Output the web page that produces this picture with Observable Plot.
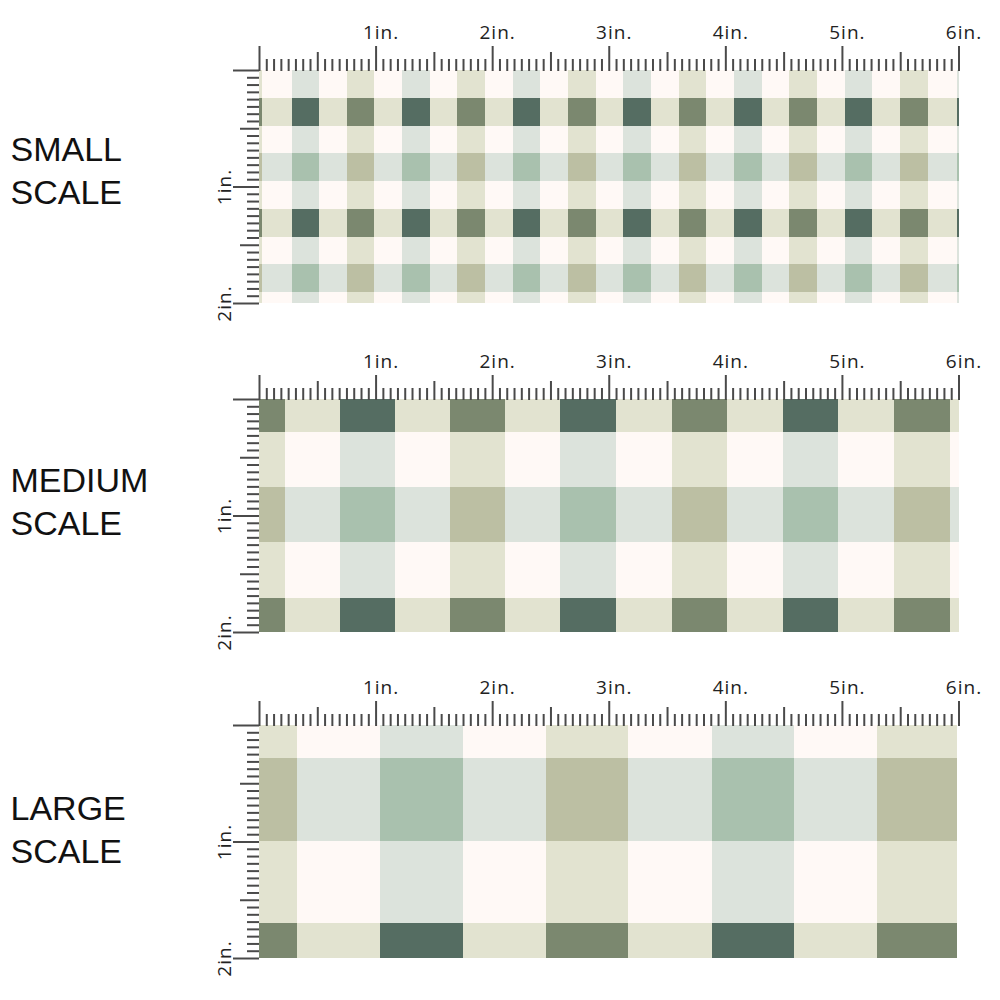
<!DOCTYPE html>
<html>
<head>
<meta charset="utf-8">
<script src="https://cdn.jsdelivr.net/npm/d3@7"></script>
<script src="https://cdn.jsdelivr.net/npm/@observablehq/plot@0.6"></script>
<style>
html, body { margin: 0; padding: 0; background: #ffffff; }
#page { position: relative; width: 1000px; height: 1000px; overflow: hidden; background: #ffffff; }
#page > svg { position: absolute; left: 0; }
#page svg g[font-size="19"] text { letter-spacing: 1px; }
</style>
</head>
<body>
<div id="page"></div>
<script>
// ---- labels ----
const panelNames = ["SMALL\nSCALE", "MEDIUM\nSCALE", "LARGE\nSCALE"];
const xInchLabels = ["1in.", "2in.", "3in.", "4in.", "5in.", "6in."];
const yInchLabels = ["1in.", "2in."];

// ---- gingham colours: row type x column type ----
// rows: W = cream, A = olive band, B = sage band; columns: W = cream, T = teal band, O = olive band
const ginghamColors = {
  W: { W: "#FFF9F6", T: "#DCE3DC", O: "#E2E3D0" },
  A: { W: "#E2E3D0", T: "#556D62", O: "#7B886F" },
  B: { W: "#DCE3DC", T: "#A9C1AE", O: "#BCBFA3" }
};

// ---- SMALL scale stripes (inches) ----
const smallColEdges = [0, 0.026, 0.283, 0.515, 0.755, 0.987, 1.227, 1.468, 1.700, 1.940, 2.180, 2.412, 2.652, 2.893,
  3.124, 3.365, 3.605, 3.837, 4.077, 4.318, 4.549, 4.790, 5.030, 5.262, 5.502, 5.742, 5.989, 6.0];
const smallColTypes = ["O","W","T","W","O","W","T","W","O","W","T","W","O","W","T","W","O","W","T","W","O","W","T","W","O","W","T"];
const smallRowEdges = [0, 0.240, 0.481, 0.712, 0.953, 1.193, 1.433, 1.665, 1.906, 2.0];
const smallRowTypes = ["W","A","W","B","W","A","W","B","W"];

// ---- MEDIUM scale stripes (inches) ----
const mediumColEdges = [0, 0.223, 0.695, 1.167, 1.639, 2.112, 2.584, 3.064, 3.545, 4.017, 4.498, 4.970, 5.451, 5.923, 6.0];
const mediumColTypes = ["O","W","T","W","O","W","T","W","O","W","T","W","O","W"];
const mediumRowEdges = [0, 0.283, 0.755, 1.227, 1.708, 2.0];
const mediumRowTypes = ["A","W","B","W","A"];

// ---- LARGE scale stripes (inches) ----
const largeColEdges = [0, 0.326, 1.039, 1.751, 2.464, 3.167, 3.888, 4.592, 5.305, 5.985];
const largeColTypes = ["O","W","T","W","O","W","T","W","O"];
const largeRowEdges = [0, 0.283, 0.996, 1.700, 2.0];
const largeRowTypes = ["W","B","W","A"];

// ---- ruler ticks (1/16 inch) ----
const xSixteenths = d3.range(0, 97).map(k => k / 16);
const ySixteenths = d3.range(0, 33).map(k => k / 16);

function cellsOf(colEdges, colTypes, rowEdges, rowTypes) {
  const cells = [];
  rowTypes.forEach((rt, i) => {
    colTypes.forEach((ct, j) => {
      cells.push({x1: colEdges[j], x2: colEdges[j + 1], y1: rowEdges[i], y2: rowEdges[i + 1], fill: ginghamColors[rt][ct]});
    });
  });
  return cells;
}

const panels = [
  {name: panelNames[0], cells: cellsOf(smallColEdges, smallColTypes, smallRowEdges, smallRowTypes), top: 0, labelDy: -18},
  {name: panelNames[1], cells: cellsOf(mediumColEdges, mediumColTypes, mediumRowEdges, mediumRowTypes), top: 329, labelDy: -16},
  {name: panelNames[2], cells: cellsOf(largeColEdges, largeColTypes, largeRowEdges, largeRowTypes), top: 655, labelDy: -14}
];

const isMinor = d => Math.round(d * 16) % 8 !== 0;
const isHalf = d => Math.round(d * 16) % 16 === 8;
const isInch = d => Math.round(d * 16) % 16 === 0;
const tickStroke = "#4a4a4a";
const rulerFont = "Open Sans, DejaVu Sans, sans-serif";

const page = document.getElementById("page");

panels.forEach(p => {
  const chart = Plot.plot({
    width: 1000,
    height: 330,
    marginLeft: 259,
    marginRight: 41.5,
    marginTop: 70,
    marginBottom: 27,
    style: {background: "transparent", color: tickStroke, fontFamily: rulerFont},
    x: {domain: [0, 6]},
    y: {domain: [0, 2], reverse: true},
    color: {type: "identity"},
    marks: [
      Plot.rect(p.cells, {x1: "x1", x2: "x2", y1: "y1", y2: "y2", fill: "fill", shapeRendering: "crispEdges"}),
      // top ruler
      Plot.axisX(xSixteenths.filter(isMinor), {anchor: "top", tickSize: 12, tickFormat: () => "", label: null, stroke: tickStroke, strokeWidth: 2}),
      Plot.axisX(xSixteenths.filter(isHalf), {anchor: "top", tickSize: 19, tickFormat: () => "", label: null, stroke: tickStroke, strokeWidth: 2}),
      Plot.axisX(xSixteenths.filter(isInch), {anchor: "top", tickSize: 25, tickFormat: () => "", label: null, stroke: tickStroke, strokeWidth: 2}),
      // left ruler
      Plot.axisY(ySixteenths.filter(isMinor), {anchor: "left", tickSize: 12, tickFormat: () => "", label: null, stroke: tickStroke, strokeWidth: 2}),
      Plot.axisY(ySixteenths.filter(isHalf), {anchor: "left", tickSize: 19, tickFormat: () => "", label: null, stroke: tickStroke, strokeWidth: 2}),
      Plot.axisY(ySixteenths.filter(isInch), {anchor: "left", tickSize: 26, tickFormat: () => "", label: null, stroke: tickStroke, strokeWidth: 2}),
      // inch labels
      Plot.text(xInchLabels.map((t, i) => ({v: i + 1, t})), {x: "v", text: "t", frameAnchor: "top", dy: -32, dx: 5,
        textAnchor: "middle", lineAnchor: "bottom", fontSize: 19, fontFamily: rulerFont, fill: "#222222"}),
      Plot.text(yInchLabels.map((t, i) => ({v: i + 1, t})), {y: "v", text: "t", frameAnchor: "left", dx: -29, rotate: -90,
        textAnchor: "middle", lineAnchor: "bottom", fontSize: 19, fontFamily: rulerFont, fill: "#222222"}),
      // panel name
      Plot.text([p.name], {text: d => d, frameAnchor: "left", dx: -249, dy: p.labelDy, textAnchor: "start",
        lineAnchor: "middle", lineHeight: 43 / 34, fontSize: 34, fontFamily: "Liberation Sans, Arial, sans-serif", fill: "#111111"})
    ]
  });
  chart.style.top = p.top + "px";
  page.appendChild(chart);
});
</script>
</body>
</html>
